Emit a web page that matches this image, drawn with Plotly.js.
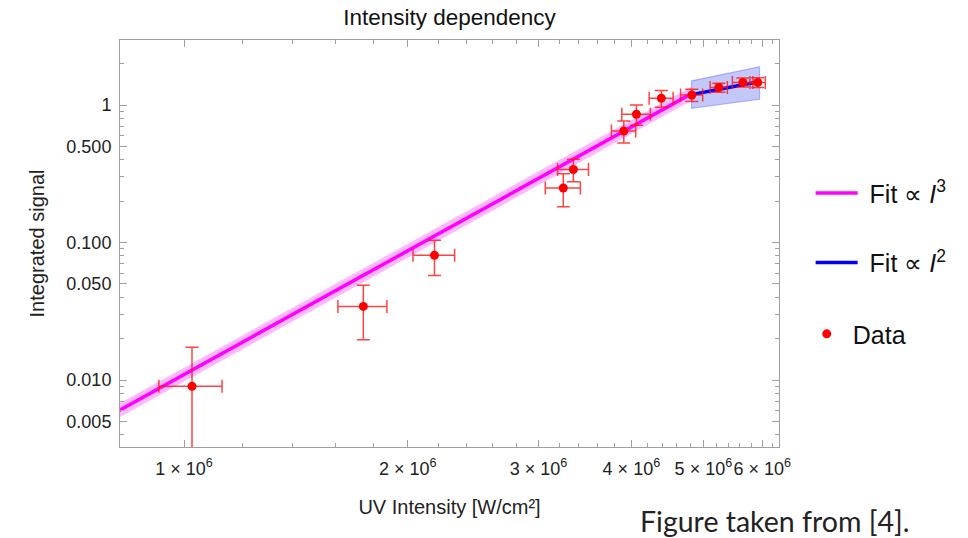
<!DOCTYPE html>
<html>
<head>
<meta charset="utf-8">
<script src="https://cdn.plot.ly/plotly-3.0.1.min.js"></script>
<style>
  html, body { margin: 0; padding: 0; background: #fff; }
  #chart { width: 968px; height: 538px; }
</style>
</head>
<body>
<div id="chart"></div>
<script>
// ---- Data ----
const dataX = [1.025e6, 1.743e6, 2.173e6, 3.239e6, 3.342e6, 3.907e6, 4.063e6, 4.389e6, 4.824e6, 5.245e6, 5.65e6, 5.917e6];
const dataY = [0.0090, 0.0343, 0.0807, 0.249, 0.340, 0.647, 0.856, 1.119, 1.182, 1.340, 1.46, 1.46];
const errX  = [0.10e6, 0.132e6, 0.14e6, 0.176e6, 0.16e6, 0.147e6, 0.18e6, 0.163e6, 0.165e6, 0.14e6, 0.18e6, 0.14e6];
const errY  = [0.0083, 0.0147, 0.023, 0.067, 0.063, 0.117, 0.143, 0.155, 0.12, 0.10, 0.11, 0.12];

// Fit ∝ I^3 (line endpoints and confidence band)
const fit3X  = [0.8e6, 4.82e6];
const fit3Y  = [0.00562, 1.21];
const fit3Up = [0.0063, 1.36];
const fit3Lo = [0.0050, 1.08];

// Fit ∝ I^2 (line endpoints and confidence band)
const fit2X  = [4.82e6, 5.93e6];
const fit2Y  = [1.19, 1.477];
const fit2BandX = [4.82e6, 5.95e6];
const fit2Up = [1.50, 1.90];
const fit2Lo = [0.946, 1.10];

// Tick labels
const xMajor = [1e6, 2e6, 3e6, 4e6, 5e6, 6e6];
const xMajorText = ['1 × 10<sup>6</sup>', '2 × 10<sup>6</sup>', '3 × 10<sup>6</sup>', '4 × 10<sup>6</sup>', '5 × 10<sup>6</sup>', '6 × 10<sup>6</sup>'];
const xMinor = [1.2e6, 1.4e6, 1.6e6, 1.8e6, 2.2e6, 2.4e6, 2.6e6, 2.8e6, 3.2e6, 3.4e6, 3.6e6, 3.8e6,
                4.2e6, 4.4e6, 4.6e6, 4.8e6, 5.2e6, 5.4e6, 5.6e6, 5.8e6, 6.2e6];
const yMajor = [1, 0.5, 0.1, 0.05, 0.01, 0.005];
const yMajorText = ['1', '0.500', '0.100', '0.050', '0.010', '0.005'];
const yMinor = [2, 0.9, 0.8, 0.7, 0.6, 0.4, 0.3, 0.2, 0.09, 0.08, 0.07, 0.06, 0.04, 0.03, 0.02,
                0.009, 0.008, 0.007, 0.006, 0.004];

const FONT = 'Arial';
const frameColor = '#a0a0a0';

const band3 = {
  x: [fit3X[0], fit3X[1], fit3X[1], fit3X[0]],
  y: [fit3Up[0], fit3Up[1], fit3Lo[1], fit3Lo[0]],
  mode: 'lines', fill: 'toself', fillcolor: 'rgba(255,0,255,0.28)',
  line: { width: 0, color: 'rgba(0,0,0,0)' }, showlegend: false, hoverinfo: 'skip'
};
const band2 = {
  x: [fit2BandX[0], fit2BandX[1], fit2BandX[1], fit2BandX[0], fit2BandX[0]],
  y: [fit2Up[0], fit2Up[1], fit2Lo[1], fit2Lo[0], fit2Up[0]],
  mode: 'lines', fill: 'toself', fillcolor: 'rgba(60,70,235,0.3)',
  line: { width: 1.2, color: 'rgba(60,70,235,0.35)' }, showlegend: false, hoverinfo: 'skip'
};
const line3 = {
  x: fit3X, y: fit3Y, mode: 'lines', name: '\u00A0Fit ∝ <i>I</i><sup>3</sup>',
  line: { color: '#ff00ff', width: 3.5 }, legendgroup: 'a', legend: 'legend'
};
const line2 = {
  x: fit2X, y: fit2Y, mode: 'lines', name: '\u00A0Fit ∝ <i>I</i><sup>2</sup>',
  line: { color: '#0000ff', width: 3.5 }, legendgroup: 'b', legend: 'legend'
};
const pts = {
  x: dataX, y: dataY, mode: 'markers', name: 'Data', legend: 'legend2',
  marker: { color: '#ff0000', size: 9 },
  error_x: { type: 'data', array: errX, visible: true, color: 'rgba(255,20,20,0.8)', thickness: 1.5, width: 6.5 },
  error_y: { type: 'data', array: errY, visible: true, color: 'rgba(255,20,20,0.8)', thickness: 1.5, width: 6.5 }
};

const legendFont = { family: FONT, size: 25, color: '#111' };

const layout = {
  width: 968, height: 538,
  margin: { l: 120, r: 189, t: 40, b: 91, pad: 0 },
  paper_bgcolor: '#ffffff', plot_bgcolor: '#ffffff',
  font: { family: FONT, color: '#222' },
  title: {
    text: 'Intensity dependency', font: { family: FONT, size: 22.5, color: '#111' },
    xref: 'paper', x: 0.5, xanchor: 'center', yref: 'container', y: 1 - 17 / 538, yanchor: 'middle'
  },
  xaxis: {
    type: 'log', range: [Math.log10(8.2e5), Math.log10(6.32e6)],
    tickmode: 'array', tickvals: xMajor, ticktext: xMajorText, tickangle: 0,
    ticks: 'inside', ticklen: 7, tickwidth: 1, tickcolor: frameColor,
    showline: true, linecolor: frameColor, linewidth: 1, mirror: 'allticks',
    showgrid: false, zeroline: false,
    tickfont: { family: FONT, size: 18, color: '#222' },
    ticklabelstandoff: 5,
    minor: { tickmode: 'array', tickvals: xMinor, ticks: 'inside', ticklen: 4, tickcolor: frameColor, showgrid: false },
    title: { text: 'UV Intensity [W/cm²]', font: { family: FONT, size: 20, color: '#222' }, standoff: 22 }
  },
  yaxis: {
    type: 'log', range: [Math.log10(0.00326), Math.log10(2.97)],
    tickmode: 'array', tickvals: yMajor, ticktext: yMajorText,
    ticks: 'inside', ticklen: 7, tickwidth: 1, tickcolor: frameColor,
    showline: true, linecolor: frameColor, linewidth: 1, mirror: 'allticks',
    showgrid: false, zeroline: false,
    tickfont: { family: FONT, size: 18, color: '#222' },
    ticklabelstandoff: 4,
    minor: { tickmode: 'array', tickvals: yMinor, ticks: 'inside', ticklen: 4, tickcolor: frameColor, showgrid: false },
    title: { text: 'Integrated signal', font: { family: FONT, size: 20, color: '#222' }, standoff: 16 }
  },
  legend: {
    x: 1.048, xanchor: 'left', y: 0.68, yanchor: 'top',
    font: legendFont,
    traceorder: 'grouped', tracegroupgap: 34, itemwidth: 42,
    bgcolor: 'rgba(0,0,0,0)', borderwidth: 0
  },
  legend2: {
    x: 1.033, xanchor: 'left', y: 0.334, yanchor: 'top',
    font: legendFont, itemwidth: 42,
    bgcolor: 'rgba(0,0,0,0)', borderwidth: 0
  },
  annotations: [{
    text: 'Figure taken from [4].', xref: 'paper', yref: 'paper',
    x: (638 - 120) / 659, y: (447 - 521) / 407, xanchor: 'left', yanchor: 'middle',
    showarrow: false, font: { family: 'Lato, Open Sans, sans-serif', size: 28.5, color: '#222' }
  }]
};

Plotly.newPlot('chart', [band3, band2, line3, line2, pts], layout, { displayModeBar: false, staticPlot: true });
</script>
</body>
</html>
